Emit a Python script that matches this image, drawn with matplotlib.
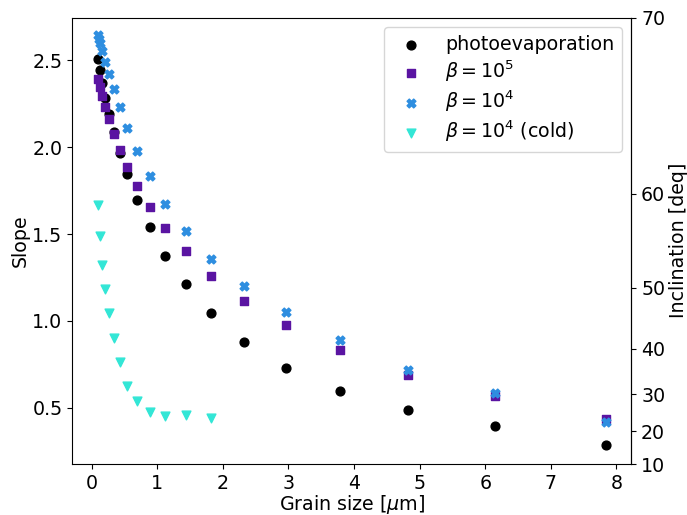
import numpy as np
import matplotlib
matplotlib.use("Agg")
import matplotlib.pyplot as plt

plt.rcParams['font.size'] = 13.7

# grain sizes [um] and slopes for each model
grain = [0.1, 0.127, 0.162, 0.206, 0.263, 0.335, 0.427, 0.544, 0.693, 0.883,
         1.125, 1.433, 1.826, 2.327, 2.965, 3.78, 4.82, 6.15, 7.84]

slope_photo = [2.507, 2.444, 2.373, 2.285, 2.193, 2.090, 1.967, 1.845, 1.699, 1.540,
               1.377, 1.211, 1.044, 0.879, 0.727, 0.594, 0.485, 0.398, 0.283]

slope_b5 = [2.393, 2.348, 2.293, 2.232, 2.163, 2.078, 1.986, 1.886, 1.776, 1.657,
            1.534, 1.402, 1.260, 1.117, 0.974, 0.835, 0.690, 0.567, 0.433]

grain_b4 = [0.09, 0.11, 0.127, 0.162, 0.206, 0.263, 0.335, 0.427, 0.544, 0.693,
            0.883, 1.125, 1.433, 1.826, 2.327, 2.965, 3.78, 4.82, 6.15, 7.84]
slope_b4 = [2.644, 2.625, 2.601, 2.553, 2.494, 2.421, 2.333, 2.230, 2.111, 1.977,
            1.833, 1.676, 1.517, 1.358, 1.203, 1.052, 0.893, 0.718, 0.588, 0.420]

grain_cold = [0.1, 0.127, 0.162, 0.206, 0.263, 0.335, 0.427, 0.544, 0.693, 0.883,
              1.125, 1.433, 1.826]
slope_cold = [1.667, 1.487, 1.322, 1.184, 1.044, 0.902, 0.762, 0.628, 0.538, 0.475,
              0.452, 0.456, 0.443]

incl_ticks = [10, 20, 30, 40, 50, 60, 70]

fig, ax = plt.subplots(figsize=(6.87, 5.15), dpi=100)
fig.subplots_adjust(left=0.105, right=0.919, bottom=0.099, top=0.966)

ax.scatter(grain, slope_photo, s=40, marker='o', color='black', label='photoevaporation')
ax.scatter(grain, slope_b5, s=40, marker='s', color='#5a14a2', label=r'$\beta = 10^5$')
ax.scatter(grain_b4, slope_b4, s=40, marker='X', color='#2e8ee0', label=r'$\beta = 10^4$')
ax.scatter(grain_cold, slope_cold, s=40, marker='v', color='#33e6d6',
           label=r'$\beta = 10^4$ (cold)')

ax.set_ylim(np.tan(np.radians(10)), np.tan(np.radians(70)))
ax.set_yticks([0.5, 1.0, 1.5, 2.0, 2.5])
ax.set_xticks(range(9))
ax.set_xlabel(r'Grain size [$\mu$m]', labelpad=0)
ax.set_ylabel('Slope', labelpad=2)

# inclination angle corresponding to the slope
sec = ax.secondary_yaxis('right',
                         functions=(lambda s: np.degrees(np.arctan(s)),
                                    lambda d: np.tan(np.radians(d))))
sec.set_yticks(incl_ticks)
sec.set_ylabel('Inclination [deq]', labelpad=2.5)

ax.legend(loc='upper right', labelspacing=0.25)

fig.savefig('out.png', dpi=100)
